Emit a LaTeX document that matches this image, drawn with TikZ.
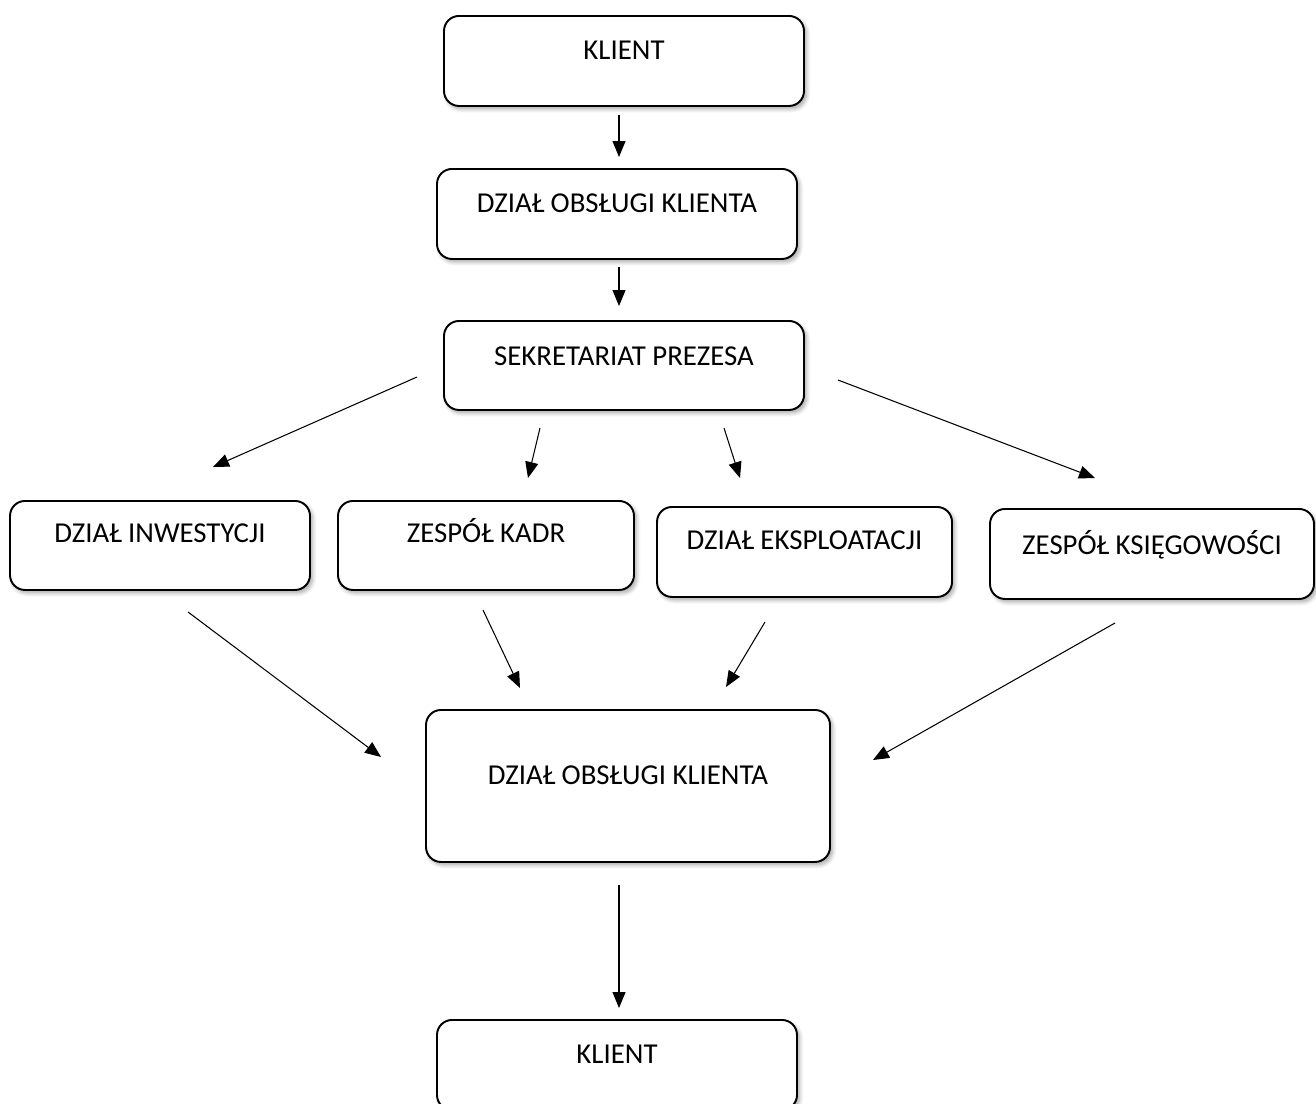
\documentclass[tikz,border=0pt]{standalone}
\usepackage{fontspec}
\setmainfont{Carlito}
\usetikzlibrary{arrows.meta,shadows.blur}
\tikzset{
  blok/.style={draw, rounded corners=0.3cm, line width=1.1pt, fill=white, inner sep=0pt,
    anchor=north, minimum width=7.2cm, text height=0.88cm, text depth=0.92cm,
    font=\fontsize{16.4}{19}\selectfont,
    blur shadow={shadow xshift=0.05cm, shadow yshift=-0.06cm, shadow blur steps=6,
      shadow blur radius=0.08cm, shadow opacity=35}},
  pil/.style={-{Triangle[length=0.32cm,width=0.26cm]}, line width=0.6pt}
}
\begin{document}
\begin{tikzpicture}
	\useasboundingbox (0,0) rectangle (26.32,-22.08);
	\node[blok] (klient1) at (12.48,-0.30) {KLIENT};
	\node[blok] (obsluga1) at (12.34,-3.36) {DZIAŁ OBSŁUGI KLIENTA};
	\node[blok, text height=0.90cm, text depth=0.88cm] (sekretariat) at (12.48,-6.40) {SEKRETARIAT PREZESA};
	\node[blok, minimum width=6.0cm, text height=0.84cm, text depth=0.94cm] (inwestycje) at (3.20,-10.00) {DZIAŁ INWESTYCJI};
	\node[blok, minimum width=5.92cm, text height=0.84cm, text depth=0.94cm] (kadry) at (9.72,-10.00) {ZESPÓŁ KADR};
	\node[blok, minimum width=5.9cm, text height=0.86cm, text depth=0.94cm] (eksploatacja) at (16.09,-10.12) {DZIAŁ EKSPLOATACJI};
	\node[blok, minimum width=6.48cm, text height=0.92cm, text depth=0.88cm] (ksiegowosc) at (23.04,-10.16) {ZESPÓŁ KSIĘGOWOŚCI};
	\node[blok, minimum width=8.08cm, text height=1.50cm, text depth=1.54cm] (obsluga2) at (12.56,-14.18) {DZIAŁ OBSŁUGI KLIENTA};
	\node[blok] (klient2) at (12.34,-20.38) {KLIENT};
	\coordinate (s3) at (8.34,-7.54);
	\coordinate (e3) at (4.26,-9.34);
	\coordinate (s4) at (10.80,-8.56);
	\coordinate (e4) at (10.56,-9.56);
	\coordinate (s5) at (14.48,-8.56);
	\coordinate (e5) at (14.80,-9.56);
	\coordinate (s6) at (16.76,-7.60);
	\coordinate (e6) at (21.90,-9.56);
	\coordinate (s7) at (3.76,-12.24);
	\coordinate (e7) at (7.62,-15.14);
	\coordinate (s8) at (9.66,-12.20);
	\coordinate (e8) at (10.40,-13.76);
	\coordinate (s9) at (15.30,-12.44);
	\coordinate (e9) at (14.52,-13.74);
	\coordinate (s10) at (22.30,-12.46);
	\coordinate (e10) at (17.46,-15.20);
	\draw[pil, shorten <=0.16cm, shorten >=0.22cm] (klient1.south -| 12.38,0) -- (obsluga1.north -| 12.38,0);
	\draw[pil, shorten <=0.14cm, shorten >=0.28cm] (obsluga1.south -| 12.38,0) -- (sekretariat.north -| 12.38,0);
	\draw[pil] (s3) -- (e3);
	\draw[pil] (s4) -- (e4);
	\draw[pil] (s5) -- (e5);
	\draw[pil] (s6) -- (e6);
	\draw[pil] (s7) -- (e7);
	\draw[pil] (s8) -- (e8);
	\draw[pil] (s9) -- (e9);
	\draw[pil] (s10) -- (e10);
	\draw[pil, shorten <=0.44cm, shorten >=0.22cm] (obsluga2.south -| 12.38,0) -- (klient2.north -| 12.38,0);
\end{tikzpicture}
\end{document}
